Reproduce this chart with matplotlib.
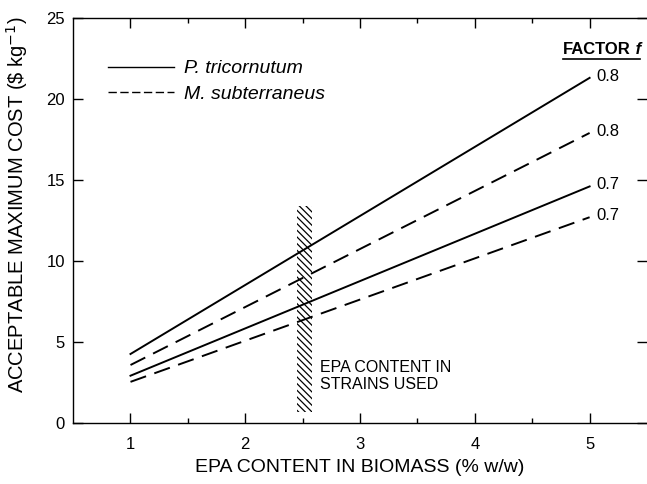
import numpy as np
import matplotlib.pyplot as plt
from matplotlib.lines import Line2D

plt.rcParams['font.family'] = ['Liberation Sans', 'DejaVu Sans']
plt.rcParams['font.size'] = 12
plt.rcParams['hatch.linewidth'] = 0.9

# EPA content in biomass (% w/w)
epa = [1, 2, 3, 4, 5]
# acceptable maximum cost ($/kg)
p_tri_08 = [4.26, 8.52, 12.78, 17.04, 21.3]
m_sub_08 = [3.58, 7.16, 10.74, 14.32, 17.9]
p_tri_07 = [2.92, 5.84, 8.76, 11.68, 14.6]
m_sub_07 = [2.54, 5.08, 7.62, 10.16, 12.7]
factor_labels = ['0.8', '0.8', '0.7', '0.7']

# EPA content range in strains used
strain_epa = (2.45, 2.58)
strain_cost = (0.7, 13.4)

fig = plt.figure(figsize=(6.47, 4.84), dpi=100)
ax = fig.add_axes([0.113, 0.126, 0.887, 0.837])

dash = (8.5, 4.5)
lw = 1.4
ax.plot(epa, p_tri_08, color='black', lw=lw)
ax.plot(epa, m_sub_08, color='black', lw=lw, dashes=dash)
ax.plot(epa, p_tri_07, color='black', lw=lw)
ax.plot(epa, m_sub_07, color='black', lw=lw, dashes=dash)

for ys, lab in zip([p_tri_08, m_sub_08, p_tri_07, m_sub_07], factor_labels):
    ax.text(epa[-1] + 0.06, ys[-1] + 0.1, lab, fontsize=12, va='center', ha='left')

t1 = ax.text(4.77, 22.6, 'FACTOR', fontsize=12, fontweight='bold',
             ha='left', va='bottom')
ax.annotate(' f', xy=(1, 0), xycoords=t1, fontsize=12, fontweight='bold',
            style='italic', ha='left', va='bottom')
ax.plot([4.77, 5.44], [22.45, 22.45], color='black', lw=1.2, clip_on=False)

# hatched band: EPA content of the strains used
ax.fill_between(strain_epa, strain_cost[0], strain_cost[1], facecolor='none',
                edgecolor='black', hatch='\\\\\\\\\\', lw=0)
ax.text(2.65, 2.9, 'EPA CONTENT IN\nSTRAINS USED', fontsize=11.5, va='center',
        ha='left', linespacing=1.15)

handles = [Line2D([], [], color='black', lw=1.0),
           Line2D([], [], color='black', lw=1.0, dashes=(6, 2.5))]
ax.legend(handles, ['P. tricornutum', 'M. subterraneus'], loc='upper left',
          bbox_to_anchor=(0.03, 0.94), frameon=False, handlelength=3.4,
          handletextpad=0.5, labelspacing=0.4, prop={'style': 'italic', 'size': 14})

ax.set_xlim(0.5, 5.5)
ax.set_ylim(0, 25)
ax.set_xticks([1, 2, 3, 4, 5])
ax.set_xticks([1.5, 2.5, 3.5, 4.5], minor=True)
ax.set_yticks([0, 5, 10, 15, 20, 25])
ax.tick_params(axis='both', which='both', direction='in', top=True, right=True,
               labelsize=12, width=1.0)
ax.tick_params(axis='both', which='major', length=7)
ax.tick_params(axis='x', which='major', pad=10)
ax.tick_params(axis='y', which='major', pad=6)
ax.tick_params(axis='x', which='minor', length=3.5)
ax.spines['right'].set_visible(False)
for s in ['left', 'top', 'bottom']:
    ax.spines[s].set_linewidth(1.0)

ax.set_xlabel('EPA CONTENT IN BIOMASS (% w/w)', fontsize=14, labelpad=5)
ax.set_ylabel('ACCEPTABLE MAXIMUM COST (\\$ kg$^{-1}$)', fontsize=14.5)
ax.yaxis.set_label_coords(-0.075, 0.538)

fig.savefig('out.png', dpi=100)
